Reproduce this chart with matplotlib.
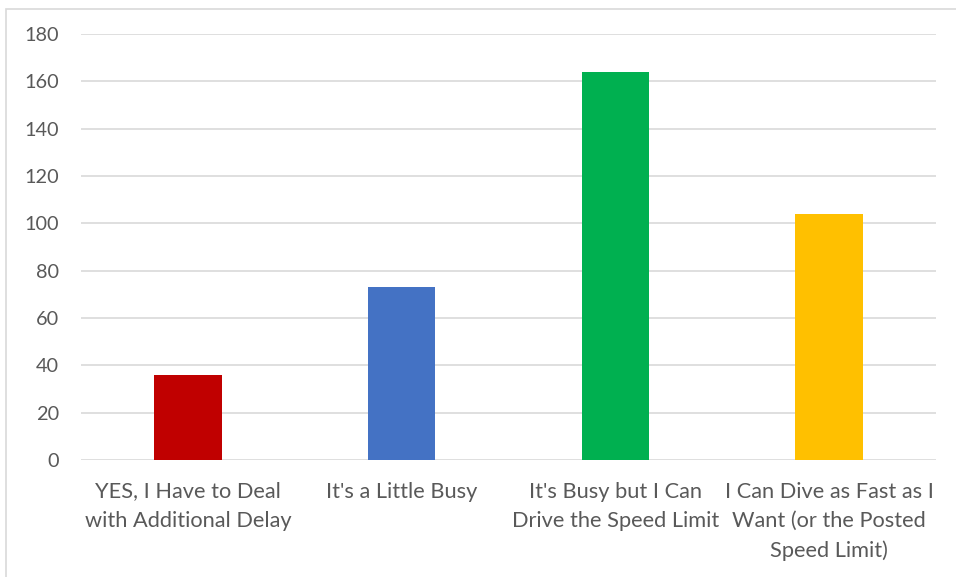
import matplotlib
matplotlib.use("Agg")
import matplotlib.pyplot as plt
from matplotlib.patches import Rectangle

# survey responses
categories = [
    "YES, I Have to Deal\nwith Additional Delay",
    "It's a Little Busy",
    "It's Busy but I Can\nDrive the Speed Limit",
    "I Can Dive as Fast as I\nWant (or the Posted\nSpeed Limit)",
]
counts = [36, 73, 164, 104]
bar_colors = ["#C00000", "#4472C4", "#00B050", "#FFC000"]
yticks = [0, 20, 40, 60, 80, 100, 120, 140, 160, 180]

plt.rcParams["font.family"] = ["Lato", "DejaVu Sans"]

W, H = 956, 577
fig = plt.figure(figsize=(W / 100, H / 100), dpi=100)
ax = fig.add_axes([81 / W, 117 / H, (936 - 81) / W, (543 - 117) / H])

x = range(len(categories))
ax.bar(x, counts, width=0.315, color=bar_colors, zorder=3)

ax.set_xlim(-0.5, len(categories) - 0.5)
ax.set_ylim(0, 180)
ax.set_yticks(yticks)
ax.set_yticklabels([str(t) for t in yticks], fontsize=14.3, color="#595959")
ax.set_xticks(list(x))
ax.set_xticklabels(categories, fontsize=15.7, color="#595959", linespacing=1.57)
ax.tick_params(axis="both", length=0)
ax.tick_params(axis="y", pad=16)
ax.tick_params(axis="x", pad=15.5)

ax.yaxis.grid(True, color="#d9d9d9", linewidth=1.2, zorder=0)
for s in ax.spines.values():
    s.set_visible(False)

# chart area border
fig.patches.append(Rectangle((6 / W, -0.1), 1.2, (H - 9) / H + 0.1,
                             transform=fig.transFigure, fill=False,
                             edgecolor="#d9d9d9", linewidth=1.2))

fig.savefig("out.png", dpi=100)
